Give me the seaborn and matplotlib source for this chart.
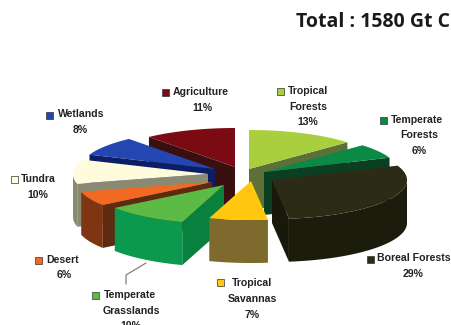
import numpy as np
import matplotlib
matplotlib.use("Agg")
import matplotlib.pyplot as plt
from matplotlib.patches import Polygon, Rectangle
import seaborn as sns

# Carbon stock share per biome, clockwise from twelve o'clock
biomes = ["Tropical Forests", "Temperate Forests", "Boreal Forests", "Tropical Savannas",
          "Temperate Grasslands", "Desert", "Tundra", "Wetlands", "Agriculture"]
shares = [13, 6, 29, 7, 10, 6, 10, 8, 11]

top_hex = ["#A9CF3F", "#0A8A45", "#2C2B15", "#FFC80F", "#5CBB45", "#F26A21", "#FFFBDD", "#2346B0", "#7A0B12"]
wall_hex = ["#5C7038", "#0A3F22", "#1C1C0D", "#7E6A2C", "#0B9A4D", "#7D3512", "#8A8A72", "#0C1E66", "#3A0F0F"]
cut_hex = ["#5C7038", "#0A3F22", "#19190B", "#7E6A2C", "#08803E", "#5E2A10", "#8A8A72", "#0C1E66", "#3A0F0F"]

# Exploded apex of each wedge, in figure pixels
apex_x = [249, 264, 272, 251, 224, 212, 208, 215, 235]
apex_y = [169, 172, 180, 181, 185, 182, 174, 169, 167]
paint_order = [8, 7, 0, 1, 6, 5, 2, 4, 3]
RX, RY, DEPTH = 135, 39, 43

# Callout text: (marker x, y), lines of (text, x, y, ha)
callouts = {
    "Tropical Forests": ((281, 91), [("Tropical", 288, 91, "left"), ("Forests", 308, 107, "center"), ("13%", 308, 122, "center")]),
    "Temperate Forests": ((384, 120), [("Temperate", 391, 120, "left"), ("Forests", 419, 135, "center"), ("6%", 419, 151, "center")]),
    "Boreal Forests": ((371, 259), [("Boreal Forests", 377, 258, "left"), ("29%", 413, 274, "center")]),
    "Tropical Savannas": ((221, 282), [("Tropical", 232, 283, "left"), ("Savannas", 252, 299, "center"), ("7%", 252, 315, "center")]),
    "Temperate Grasslands": ((96, 295), [("Temperate", 104, 295, "left"), ("Grasslands", 131, 311, "center"), ("10%", 131, 326, "center")]),
    "Desert": ((39, 260), [("Desert", 46, 260, "left"), ("6%", 64, 275, "center")]),
    "Tundra": ((15, 179), [("Tundra", 21, 179, "left"), ("10%", 38, 195, "center")]),
    "Wetlands": ((50, 115), [("Wetlands", 58, 114, "left"), ("8%", 80, 130, "center")]),
    "Agriculture": ((166, 92), [("Agriculture", 173, 92, "left"), ("11%", 202, 108, "center")]),
}

sns.set_theme(style="white")
plt.rcParams["font.family"] = ["Liberation Sans", "DejaVu Sans"]
top_colors = sns.color_palette(top_hex)
wall_colors = sns.color_palette(wall_hex)
cut_colors = sns.color_palette(cut_hex)

fig = plt.figure(figsize=(4.52, 3.25), dpi=100, facecolor="white")
ax = fig.add_axes([0, 0, 1, 1])
ax.set_xlim(0, 452)
ax.set_ylim(325, 0)
ax.axis("off")

ends = np.cumsum(shares) / np.sum(shares) * 2 * np.pi
starts = np.concatenate([[0], ends[:-1]])


def rim(cx, cy, t):
    return np.column_stack([cx + RX * np.sin(t), cy - RY * np.cos(t)])


def extrude(points):
    return np.vstack([points, (points + [0, DEPTH])[::-1]])


def draw_wedge(i):
    cx, cy = apex_x[i], apex_y[i]
    t0, t1 = starts[i], ends[i]
    apex = np.array([[cx, cy]])
    # Radial faces turned toward the viewer
    if np.sin(t0) < 0:
        ax.add_patch(Polygon(extrude(np.vstack([apex, rim(cx, cy, np.array([t0]))])), fc=cut_colors[i], ec="none"))
    if np.sin(t1) > 0:
        ax.add_patch(Polygon(extrude(np.vstack([apex, rim(cx, cy, np.array([t1]))])), fc=cut_colors[i], ec="none"))
    # Curved outer wall on the near half of the ellipse
    lo, hi = max(t0, np.pi / 2), min(t1, 3 * np.pi / 2)
    if hi > lo:
        arc = rim(cx, cy, np.linspace(lo, hi, 60))
        ax.add_patch(Polygon(extrude(arc), fc=wall_colors[i], ec="none"))
    # Top surface
    arc = rim(cx, cy, np.linspace(t0, t1, 80))
    ax.add_patch(Polygon(np.vstack([apex, arc]), fc=top_colors[i], ec="none"))


for i in paint_order:
    draw_wedge(i)

# Leader line for the grassland label
ax.plot([146, 126, 126], [263, 275, 284], color="#808080", lw=0.9)

for i, name in enumerate(biomes):
    (mx, my), lines = callouts[name]
    ax.add_patch(Rectangle((mx - 3.5, my - 3.5), 7, 7, fc=top_colors[i], ec="#333333", lw=0.5))
    for text, x, y, ha in lines:
        ax.text(x, y, text, ha=ha, va="center", fontsize=7.6, fontweight="bold", color="#222222")

ax.text(450, 22, "Total : 1580 Gt C", ha="right", va="center", fontsize=14,
        fontweight="bold", family="Open Sans", color="#1A1A1A")

fig.savefig("out.png", dpi=100)
